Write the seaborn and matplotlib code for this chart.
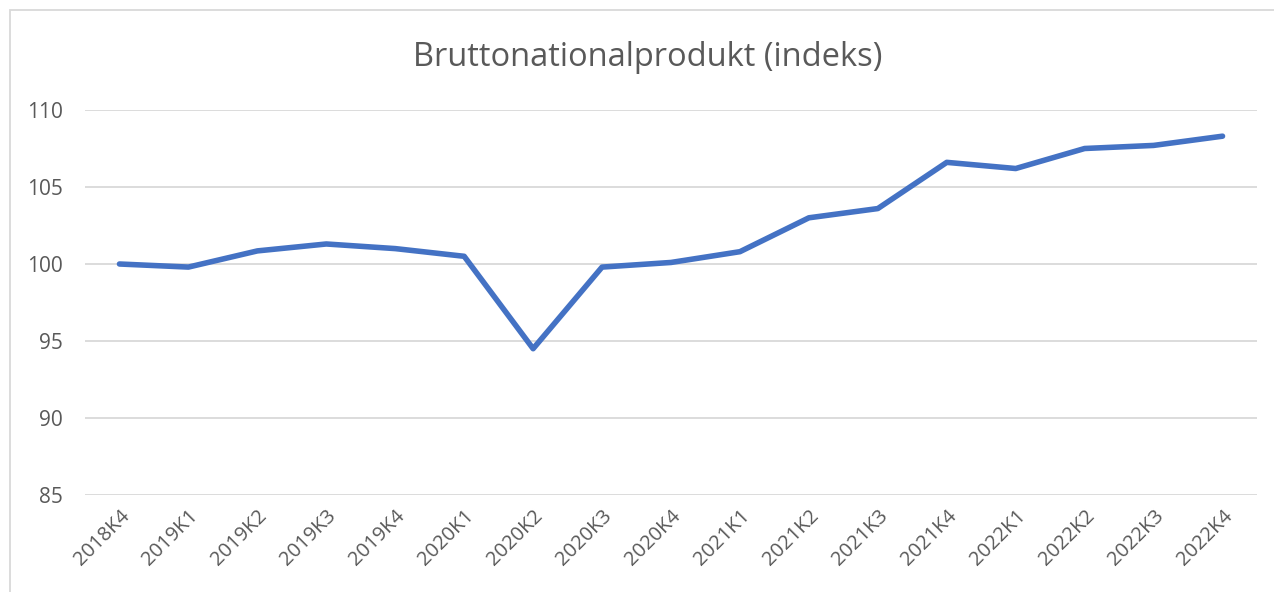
import pandas as pd
import matplotlib
matplotlib.use("Agg")
import matplotlib.pyplot as plt
from matplotlib.patches import Rectangle
import seaborn as sns

quarters = ["2018K4", "2019K1", "2019K2", "2019K3", "2019K4", "2020K1", "2020K2",
            "2020K3", "2020K4", "2021K1", "2021K2", "2021K3", "2021K4", "2022K1",
            "2022K2", "2022K3", "2022K4"]
bnp_index = [100.0, 99.8, 100.85, 101.3, 101.0, 100.5, 94.5,
             99.8, 100.1, 100.8, 103.0, 103.6, 106.6, 106.2,
             107.5, 107.7, 108.3]
y_ticks = [85, 90, 95, 100, 105, 110]

df = pd.DataFrame({"kvartal": quarters, "indeks": bnp_index})

sns.set_theme(style="white")
plt.rcParams["font.family"] = ["Open Sans", "DejaVu Sans"]

text_col = "#595959"
fig = plt.figure(figsize=(12.74, 5.92), dpi=100)
ax = fig.add_axes([85 / 1274, 1 - 495 / 592, (1257 - 85) / 1274, (495 - 110) / 592])

# chart border like the spreadsheet frame
fig.patches.append(Rectangle((10 / 1274, -0.1), 1.2, 1 - 10 / 592 + 0.1,
                             transform=fig.transFigure, fill=False,
                             edgecolor="#D9D9D9", linewidth=1.3))

x_pos = list(range(len(quarters)))
sns.lineplot(x=x_pos, y=df["indeks"], ax=ax, color="#4472C4", linewidth=4,
             solid_capstyle="round", solid_joinstyle="round")

ax.set_xlim(-0.5, len(quarters) - 0.5)
ax.set_ylim(85, 110)
ax.set_yticks(y_ticks)
ax.set_yticklabels([str(t) for t in y_ticks], fontsize=15, color=text_col)
ax.set_xticks(x_pos)
ax.set_xticklabels(quarters, rotation=45, ha="right", rotation_mode="anchor",
                   fontsize=14.5, color=text_col)
ax.tick_params(axis="y", length=0, pad=16)
ax.tick_params(axis="x", length=0, pad=8)
ax.grid(axis="y", color="#D9D9D9", linewidth=1.3)
ax.set_axisbelow(True)
for s in ax.spines.values():
    s.set_visible(False)
ax.set_xlabel("")
ax.set_ylabel("")

fig.text(648 / 1274, 1 - 57 / 592, "Bruttonationalprodukt (indeks)", ha="center", va="center",
         fontsize=23.5, color=text_col)

fig.savefig("out.png", dpi=100)
